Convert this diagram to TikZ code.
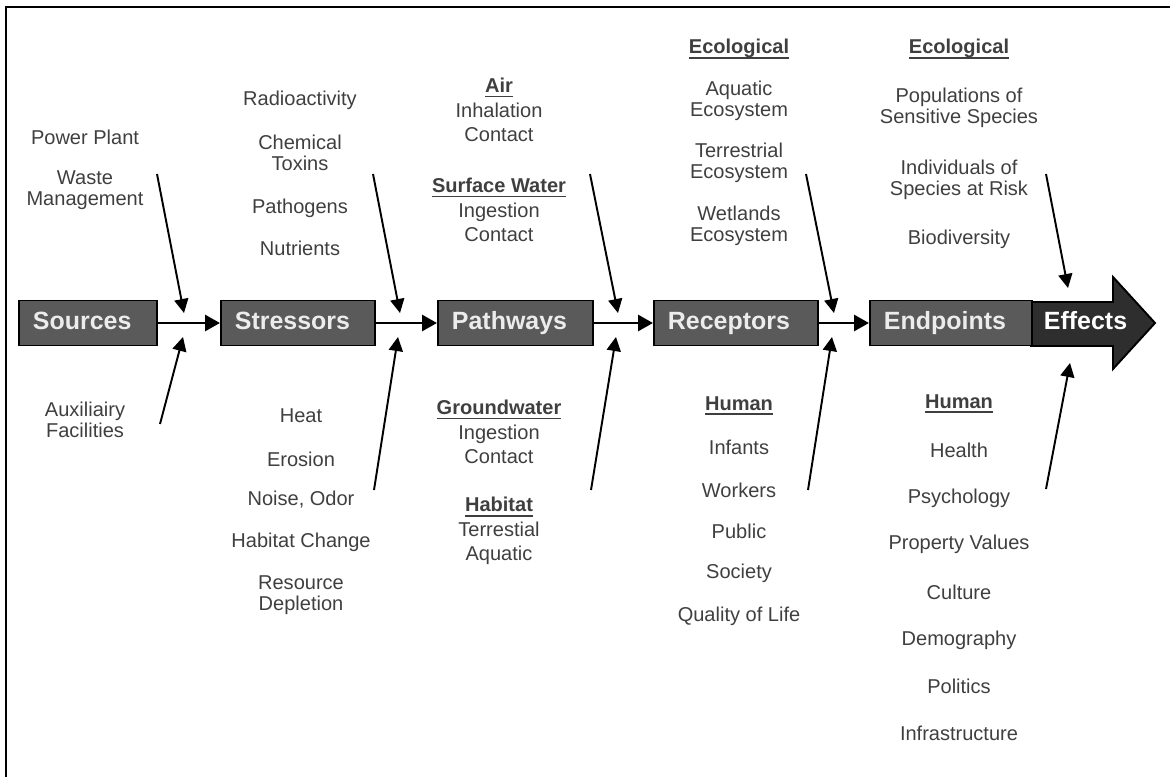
\documentclass[tikz,border=0pt]{standalone}
\usepackage{fontspec}
\setmainfont{Liberation Sans}
\usetikzlibrary{arrows.meta}
\definecolor{boxgray}{HTML}{5A5A5A}
\definecolor{effgray}{HTML}{2E2E2E}
\definecolor{boxtext}{HTML}{ECECEC}
\definecolor{itemtext}{HTML}{3F3F3F}
\tikzset{>={Triangle[length=0.3cm,width=0.32cm]}}
\newsavebox{\hdbox}
\newcommand{\hd}[1]{\sbox{\hdbox}{\bfseries #1}\rlap{\rule[-2.6pt]{\wd\hdbox}{1.1pt}}\usebox{\hdbox}}

\begin{document}
\begin{tikzpicture}[x=0.02cm, y=-0.02cm,
  stage/.style={draw=black, line width=1.1pt, fill=boxgray, text=boxtext, font=\bfseries\fontsize{14.2}{16}\selectfont, anchor=west, minimum height=0.9cm, inner xsep=0.28cm, text height=0.7em, text depth=0em, align=left},
  item/.style={text=itemtext, font=\fontsize{11.4}{12}\selectfont, align=center, inner sep=0pt},
  group/.style={item, font=\fontsize{11.4}{13.8}\selectfont},
  flow/.style={->, line width=1.7pt},
  feed/.style={-{Triangle[length=0.28cm,width=0.28cm]}, line width=1.1pt}]
\useasboundingbox (0,0) rectangle (1170,777);
% frame
\draw[line width=1.2pt] (1170,7) -- (6,7) -- (6,777);

% effects arrow
\draw[line width=1.1pt, fill=effgray] (1031,302) -- (1113,302) -- (1113,277) -- (1155,323) -- (1113,369) -- (1113,346) -- (1031,346) -- cycle;

% main chain
\node[stage, text width=2.2cm] (src) at (18,323) {Sources};
\node[stage, text width=2.52cm] (str) at (220,323) {Stressors};
\node[stage, text width=2.54cm] (pth) at (437,323) {Pathways};
\node[stage, text width=2.72cm] (rec) at (653,323) {Receptors};
\node[stage, text width=2.68cm] (enp) at (869,323) {Endpoints};
\node[stage, draw=none, fill=none, text=white, inner xsep=0.24cm] (eff) at (1031,323) {Effects};

\draw[flow] (src.east) -- (str.west);
\draw[flow] (str.east) -- (pth.west);
\draw[flow] (pth.east) -- (rec.west);
\draw[flow] (rec.east) -- (enp.west);

% sources
\node[item] (pp) at (85,137) {Power Plant};
\node[item] (wm) at (85,190) {Waste\\Management};
\node[item] (af) at (85,420) {Auxiliairy\\Facilities};

% stressors
\node[item] (rad) at (300,100) {Radioactivity};
\node[item] (chem) at (300,153) {Chemical\\Toxins};
\node[item] (pat) at (300,208) {Pathogens};
\node[item] (nut) at (300,248) {Nutrients};
\node[item] (heat) at (301,416) {Heat};
\node[item] (ero) at (301,459) {Erosion};
\node[item] (noise) at (301,500) {Noise, Odor};
\node[item] (habc) at (301,542) {Habitat Change};
\node[item] (res) at (301,595) {Resource\\Depletion};

% pathways
\node[group] (air) at (499,110) {\hd{Air}\\Inhalation\\Contact};
\node[group] (sw) at (499,210) {\hd{Surface Water}\\Ingestion\\Contact};
\node[group] (gw) at (499,432) {\hd{Groundwater}\\Ingestion\\Contact};
\node[group] (hab) at (499,531) {\hd{Habitat}\\Terrestial\\Aquatic};

% receptors
\node[item] (recco) at (739,49) {\hd{Ecological}};
\node[item] (aq) at (739,101) {Aquatic\\Ecosystem};
\node[item] (ter) at (739,163) {Terrestrial\\Ecosystem};
\node[item] (wet) at (739,226) {Wetlands\\Ecosystem};
\node[item] (rechu) at (739,406) {\hd{Human}};
\node[item] (inf) at (739,447) {Infants};
\node[item] (work) at (739,490) {Workers};
\node[item] (pub) at (739,531) {Public};
\node[item] (soc) at (739,573) {Society};
\node[item] (qol) at (739,616) {Quality of Life};

% endpoints
\node[item] (enpeco) at (959,49) {\hd{Ecological}};
\node[item] (popu) at (959,108) {Populations of\\Sensitive Species};
\node[item] (indiv) at (959,180) {Individuals of\\Species at Risk};
\node[item] (biod) at (959,239) {Biodiversity};
\node[item] (enphu) at (959,404) {\hd{Human}};
\node[item] (health) at (959,450) {Health};
\node[item] (psy) at (959,498) {Psychology};
\node[item] (prop) at (959,544) {Property Values};
\node[item] (cult) at (959,592) {Culture};
\node[item] (demo) at (959,640) {Demography};
\node[item] (pol) at (959,686) {Politics};
\node[item] (infra) at (959,733) {Infrastructure};

% feeding arrows
\coordinate (srcin) at (157,174);   \coordinate (srcout) at (184,313);
\coordinate (auxin) at (160,424);   \coordinate (auxout) at (183,337);
\coordinate (strin) at (373,174);   \coordinate (strout) at (400,313);
\coordinate (stbin) at (374,490);   \coordinate (stbout) at (398,337);
\coordinate (pthin) at (590,174);   \coordinate (pthout) at (618,313);
\coordinate (ptbin) at (591,490);   \coordinate (ptbout) at (616,337);
\coordinate (recin) at (806,174);   \coordinate (recout) at (834,313);
\coordinate (rcbin) at (808,490);   \coordinate (rcbout) at (832,337);
\coordinate (enpin) at (1046,174);  \coordinate (enpout) at (1068,288);
\coordinate (enbin) at (1046,489);  \coordinate (enbout) at (1070,363);

\draw[feed] (srcin) -- (srcout);
\draw[feed] (auxin) -- (auxout);
\draw[feed] (strin) -- (strout);
\draw[feed] (stbin) -- (stbout);
\draw[feed] (pthin) -- (pthout);
\draw[feed] (ptbin) -- (ptbout);
\draw[feed] (recin) -- (recout);
\draw[feed] (rcbin) -- (rcbout);
\draw[feed] (enpin) -- (enpout);
\draw[feed] (enbin) -- (enbout);
\end{tikzpicture}
\end{document}
